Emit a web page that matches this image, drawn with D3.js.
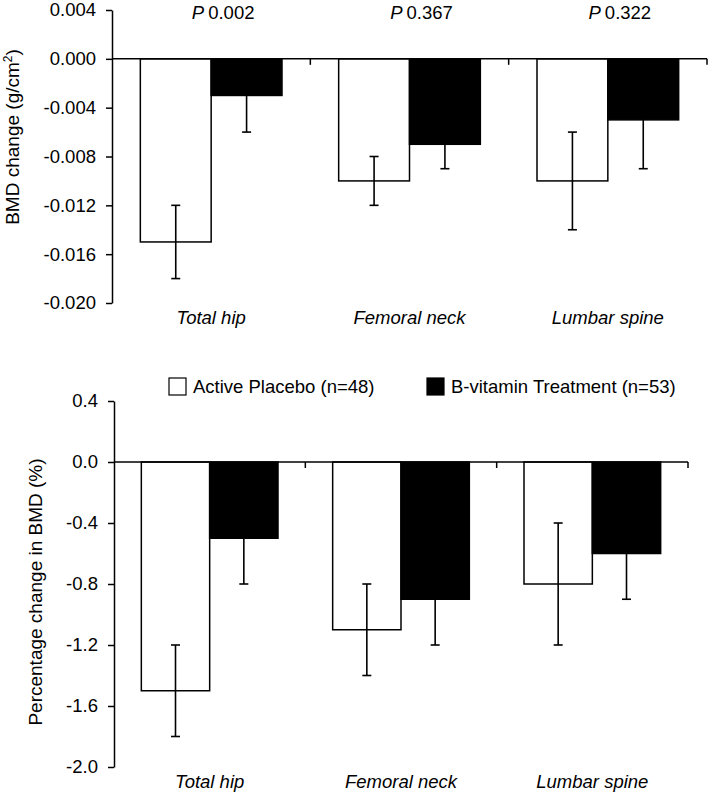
<!DOCTYPE html>
<html>
<head>
<meta charset="utf-8">
<script src="https://cdn.jsdelivr.net/npm/d3@7"></script>
<style>
  body { margin: 0; background: #fff; }
  svg { display: block; font-family: "Liberation Sans", Arial, sans-serif; }
  text { fill: #000; }
</style>
</head>
<body>
<div id="chart"></div>
<script>
const sites = ["Total hip", "Femoral neck", "Lumbar spine"];
const groups = ["Active Placebo (n=48)", "B-vitamin Treatment (n=53)"];
const pValues = ["0.002", "0.367", "0.322"];

// absolute BMD change (g/cm2)
const bmdPlacebo = [-0.015, -0.010, -0.010];
const bmdPlaceboErr = [0.003, 0.002, 0.004];
const bmdTreatment = [-0.003, -0.007, -0.005];
const bmdTreatmentErr = [0.003, 0.002, 0.004];
const bmdTicks = [0.004, 0.000, -0.004, -0.008, -0.012, -0.016, -0.020];

// percentage change in BMD (%)
const pctPlacebo = [-1.5, -1.1, -0.8];
const pctPlaceboErr = [0.3, 0.3, 0.4];
const pctTreatment = [-0.5, -0.9, -0.6];
const pctTreatmentErr = [0.3, 0.3, 0.3];
const pctTicks = [0.4, 0.0, -0.4, -0.8, -1.2, -1.6, -2.0];

const W = 709, H = 794;
const colors = ["#fff", "#000"];

// plain hyphen for negatives, like the original figure
const hyphenFormat = spec => d => d3.format(spec)(d).replace("\u2212", "-");

const svg = d3.select("#chart").append("svg")
    .attr("width", W)
    .attr("height", H);

function panel(opts) {
    const x = d3.scaleBand().domain(sites).range([opts.left, opts.right]).padding(0);
    const x1 = d3.scaleBand().domain(groups).range([0, x.bandwidth()]).paddingInner(0).paddingOuter(0.4);
    const y = d3.scaleLinear().domain(opts.domain).range([opts.bottom, opts.top]);

    const rows = [];
    sites.forEach((s, i) => {
        rows.push({ site: s, group: groups[0], v: opts.placebo[i], e: opts.placeboErr[i] });
        rows.push({ site: s, group: groups[1], v: opts.treatment[i], e: opts.treatmentErr[i] });
    });

    const g = svg.append("g");

    // bars
    g.selectAll("rect.bar")
        .data(rows)
        .enter().append("rect")
        .attr("class", "bar")
        .attr("x", d => x(d.site) + x1(d.group))
        .attr("y", d => y(Math.max(0, d.v)))
        .attr("width", x1.bandwidth())
        .attr("height", d => Math.abs(y(d.v) - y(0)))
        .attr("fill", d => colors[groups.indexOf(d.group)])
        .attr("stroke", "#000")
        .attr("stroke-width", 1.5);

    // error bars
    const eb = g.selectAll("g.err")
        .data(rows)
        .enter().append("g")
        .attr("class", "err")
        .attr("transform", d => `translate(${x(d.site) + x1(d.group) + x1.bandwidth() / 2},0)`)
        .attr("stroke", "#000")
        .attr("stroke-width", 1.6);
    eb.append("line")
        .attr("y1", d => y(d.v + d.e))
        .attr("y2", d => y(d.v - d.e));
    eb.append("line")
        .attr("x1", -4.5).attr("x2", 4.5)
        .attr("y1", d => y(d.v + d.e)).attr("y2", d => y(d.v + d.e));
    eb.append("line")
        .attr("x1", -4.5).attr("x2", 4.5)
        .attr("y1", d => y(d.v - d.e)).attr("y2", d => y(d.v - d.e));

    // y axis
    const yAxis = g.append("g")
        .attr("transform", `translate(${opts.left},0)`)
        .call(d3.axisLeft(y).tickValues(opts.ticks).tickFormat(opts.fmt).tickSize(6).tickSizeOuter(0).tickPadding(10));
    yAxis.select(".domain").attr("stroke-width", 1.5);
    yAxis.selectAll(".tick line").attr("stroke-width", 1.5);
    yAxis.selectAll("text")
        .attr("font-size", 18.5)
        .attr("font-family", "Liberation Sans, Arial, sans-serif");

    // zero line with category separators
    const xAxis = g.append("g")
        .attr("transform", `translate(0,${y(0)})`);
    xAxis.append("line")
        .attr("x1", opts.left).attr("x2", opts.right)
        .attr("stroke", "#000").attr("stroke-width", 1.5);
    xAxis.selectAll("line.sep")
        .data(sites)
        .enter().append("line")
        .attr("class", "sep")
        .attr("x1", d => x(d) + x.bandwidth()).attr("x2", d => x(d) + x.bandwidth())
        .attr("y1", 0).attr("y2", 6)
        .attr("stroke", "#000").attr("stroke-width", 1.5);

    // category labels
    g.selectAll("text.cat")
        .data(sites)
        .enter().append("text")
        .attr("class", "cat")
        .attr("x", d => x(d) + x.bandwidth() / 2)
        .attr("y", opts.catY)
        .attr("text-anchor", "middle")
        .attr("font-size", 18.5)
        .attr("font-style", "italic")
        .text(d => d);

    // y title
    const yt = g.append("text")
        .attr("transform", `translate(${opts.titleX},${opts.titleY}) rotate(-90)`)
        .attr("text-anchor", "middle")
        .attr("font-size", 19);
    opts.title(yt);

    return { x, y, g };
}

// top panel: absolute change
const absPanel = panel({
    left: 112, right: 707, top: 10, bottom: 303,
    domain: [-0.020, 0.004],
    ticks: bmdTicks, fmt: hyphenFormat(".3f"),
    placebo: bmdPlacebo, placeboErr: bmdPlaceboErr,
    treatment: bmdTreatment, treatmentErr: bmdTreatmentErr,
    catY: 324, titleX: 19, titleY: 137,
    title: t => {
        t.append("tspan").text("BMD change  (g/cm");
        t.append("tspan").attr("font-size", 12).attr("dy", -7).text("2");
        t.append("tspan").attr("dy", 7).text(")");
    }
});

// P values above each site
absPanel.g.selectAll("text.pval")
    .data(sites)
    .enter().append("text")
    .attr("class", "pval")
    .attr("x", d => absPanel.x(d) + absPanel.x.bandwidth() / 2 + 12)
    .attr("y", 19)
    .attr("text-anchor", "middle")
    .attr("font-size", 18.5)
    .each(function (d, i) {
        const t = d3.select(this);
        t.append("tspan").attr("font-style", "italic").text("P");
        t.append("tspan").attr("dx", 4).text(pValues[i]);
    });

// bottom panel: percentage change
panel({
    left: 114, right: 688, top: 401, bottom: 767,
    domain: [-2.0, 0.4],
    ticks: pctTicks, fmt: hyphenFormat(".1f"),
    placebo: pctPlacebo, placeboErr: pctPlaceboErr,
    treatment: pctTreatment, treatmentErr: pctTreatmentErr,
    catY: 788, titleX: 42, titleY: 592,
    title: t => t.text("Percentage change in BMD (%)")
});

// legend
const legendX = [169, 427];
const legend = svg.append("g").selectAll("g")
    .data(groups)
    .enter().append("g")
    .attr("transform", (d, i) => `translate(${legendX[i]},378)`);
legend.append("rect")
    .attr("width", 17).attr("height", 17)
    .attr("fill", (d, i) => colors[i])
    .attr("stroke", "#000").attr("stroke-width", 1.2);
legend.append("text")
    .attr("x", 24).attr("y", 15)
    .attr("font-size", 18.5)
    .text(d => d);
</script>
</body>
</html>
